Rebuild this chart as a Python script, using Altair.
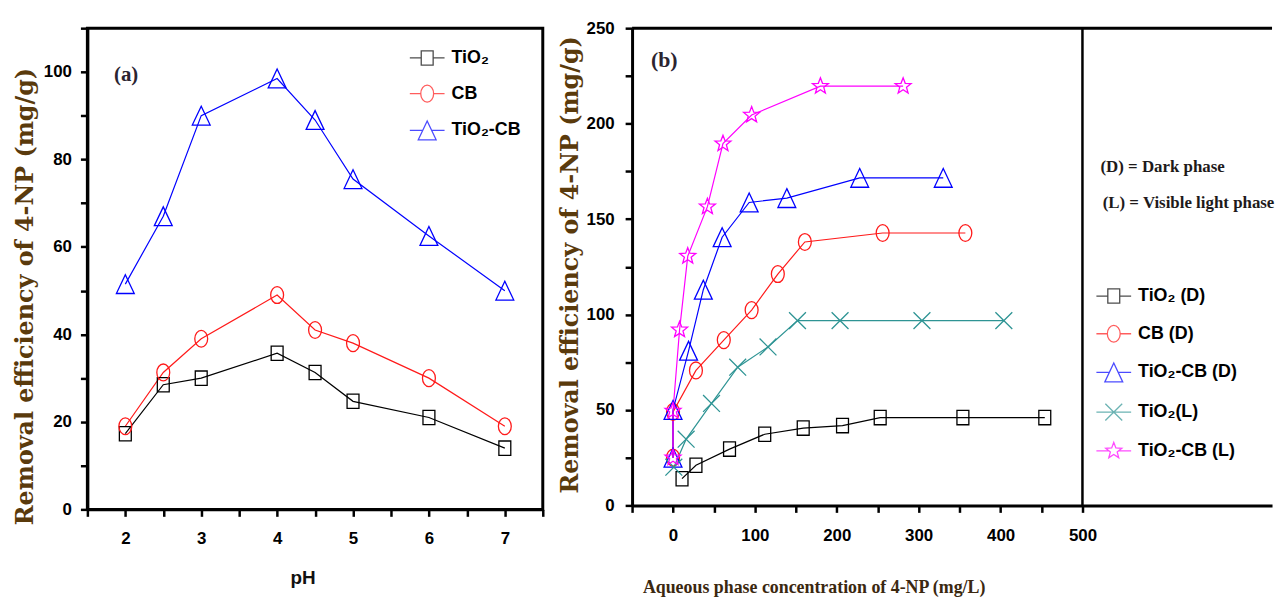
import math
import altair as alt
import pandas as pd

# ---------------- panel (a) data ----------------
ph = [2, 2.5, 3, 4, 4.5, 5, 6, 7]
a_tio2 = [17.3, 28.5, 30.0, 35.7, 31.3, 24.7, 21.0, 14.0]
a_cb = [19.0, 31.3, 39.0, 49.0, 41.0, 38.0, 30.0, 19.0]
a_tio2_cb = [51.5, 67.0, 90.0, 98.5, 89.0, 75.5, 62.5, 50.0]
a_names = ["TiO₂", "CB", "TiO₂-CB"]
a_colors = ["#000000", "#ff1a1a", "#0000ff"]
a_xticks = [1.5, 2, 2.5, 3, 3.5, 4, 4.5, 5, 5.5, 6, 6.5, 7, 7.5]

# ---------------- panel (b) data ----------------
b_names = ["TiO₂ (D)", "CB (D)", "TiO₂-CB (D)", "TiO₂(L)", "TiO₂-CB (L)"]
b_colors = ["#000000", "#ff1a1a", "#0000ff", "#2e9494", "#ff00ff"]
tio2_d_x = [11, 28, 69, 112, 159, 207, 253, 354, 454]
tio2_d_y = [14.0, 21.0, 29.5, 37.3, 40.5, 41.8, 46.0, 46.0, 46.0]
cb_d_x = [0, 0, 28, 62, 96, 128, 161, 256, 357]
cb_d_y = [25.0, 49.0, 70.7, 86.6, 102.3, 121.2, 138.0, 142.7, 142.7]
tio2cb_d_x = [0, 0, 19, 37, 60, 93, 139, 228, 330]
tio2cb_d_y = [25.0, 50.0, 81.0, 113.0, 140.5, 158.7, 161.0, 171.6, 171.6]
tio2_l_x = [1, 16, 47, 79, 116, 152, 204, 304, 404]
tio2_l_y = [20.0, 34.7, 53.4, 72.4, 83.0, 96.8, 96.8, 96.8, 96.8]
tio2cb_l_x = [0, 0, 8, 18, 42, 61, 96, 180, 281]
tio2cb_l_y = [25.0, 49.5, 92.0, 130.6, 156.5, 189.5, 204.5, 219.6, 219.6]

# annotations
a_note = ["(a)"]
a_note_x = [2.01]
a_note_y = [99.2]
b_note = ["(b)"]
b_note_x = [-10.7]
b_note_y = [233.5]
b_phase = ["(D) = Dark phase", "(L) = Visible light phase"]
b_phase_x = [522, 524.7]
b_phase_y = [177.1, 158.3]


# ---------------- marker shapes ----------------
def f(v):
    return f"{v:.3f}"


def square(s, w=0.6, h=0.72):
    w, h = w * s, h * s
    return f"M{f(-w)},{f(-h)}H{f(w)}V{f(h)}H{f(-w)}Z"


def ellipse(s, rx=0.65, ry=0.85):
    rx, ry = rx * s, ry * s
    return (f"M{f(-rx)},0A{f(rx)},{f(ry)} 0 1,0 {f(rx)},0"
            f"A{f(rx)},{f(ry)} 0 1,0 {f(-rx)},0Z")


def triangle(s, hw=0.9, hh=0.95):
    hw, hh = hw * s, hh * s
    return f"M0,{f(-hh)}L{f(hw)},{f(hh)}L{f(-hw)},{f(hh)}Z"


def cross(s, r=0.85):
    r = r * s
    return f"M{f(-r)},{f(-r)}L{f(r)},{f(r)}M{f(-r)},{f(r)}L{f(r)},{f(-r)}"


def star(s, R=0.85, r=0.36):
    pts = []
    for k in range(10):
        ang = math.radians(-90 + 36 * k)
        rad = (R if k % 2 == 0 else r) * s
        pts.append(f"{f(rad * math.cos(ang))},{f(rad * math.sin(ang))}")
    return "M" + "L".join(pts) + "Z"


def with_line(path, gap):
    return f"M-1,0H{f(-gap)}M{f(gap)},0H1" + path


LEG_SIZE = 1225
LS = 10 / 17.5  # legend scale relative to data markers
shape_defs = {
    "square": (square(1), with_line(square(LS), 0.6 * LS)),
    "circle": (ellipse(1), with_line(ellipse(LS), 0.65 * LS)),
    "triangle": (triangle(1), with_line(triangle(LS), 0.45 * LS)),
    "cross": (cross(1), "M-1,0H1" + cross(LS)),
    "star": (star(1), with_line(star(LS), 0.48 * LS)),
}
a_shapes = ["square", "circle", "triangle"]
b_shapes = ["square", "circle", "triangle", "cross", "star"]


def frame(names, xs, ys):
    rows = []
    for name, xv, yv in zip(names, xs, ys):
        for i, (xx, yy) in enumerate(zip(xv, yv)):
            rows.append({"series": name, "x": xx, "y": yy, "order": i})
    return pd.DataFrame(rows)


df_a = frame(a_names, [ph, ph, ph], [a_tio2, a_cb, a_tio2_cb])
df_b = frame(
    b_names,
    [tio2_d_x, cb_d_x, tio2cb_d_x, tio2_l_x, tio2cb_l_x],
    [tio2_d_y, cb_d_y, tio2cb_d_y, tio2_l_y, tio2cb_l_y],
)

SANS = "Liberation Sans"
SERIF = "Liberation Serif"
WIDE_SERIF = "DejaVu Serif"
BROWN = "#5a3a0c"
YTITLE = "Removal efficiency of 4-NP (mg/g)"

W_A, H_A = 459, 485
W_B, H_B = 645, 481


def panel(df, names, colors, shapes, xenc, yenc, legend_xy, row_pad, extra):
    color_plain = alt.Color("series:N", scale=alt.Scale(domain=names, range=colors), legend=None)
    lines = alt.Chart(df).mark_line(strokeWidth=1.2).encode(
        x=xenc, y=yenc, color=color_plain, order="order:Q")
    points = alt.Chart(df).mark_point(size=400, filled=False, strokeWidth=1.3, opacity=1).encode(
        x=xenc, y=yenc, color=color_plain,
        shape=alt.Shape("series:N", scale=alt.Scale(domain=names,
                        range=[shape_defs[s][0] for s in shapes]), legend=None))
    leg = alt.Legend(title=None, orient="none", legendX=legend_xy[0], legendY=legend_xy[1],
                     symbolSize=LEG_SIZE, symbolStrokeWidth=1.3, symbolFillColor="transparent",
                     labelFont=SANS, labelFontSize=18, labelFontWeight="bold",
                     labelColor="black", rowPadding=row_pad, labelOffset=6, padding=0)
    legend_layer = alt.Chart(df).transform_filter("false").mark_point(
        filled=False, strokeWidth=1.3).encode(
        x=xenc, y=yenc,
        color=alt.Color("series:N", scale=alt.Scale(domain=names, range=colors), legend=leg),
        shape=alt.Shape("series:N", scale=alt.Scale(domain=names,
                        range=[shape_defs[s][1] for s in shapes]), legend=leg))
    texts = [c.encode(x=xenc, y=yenc) for c in extra]
    return alt.layer(lines, points, legend_layer, *texts).resolve_scale(
        color="independent", shape="independent")


# ---------------- panel (a) ----------------
xa = alt.X("x:Q", scale=alt.Scale(domain=[1.5, 7.5], nice=False, zero=False),
           axis=alt.Axis(title="pH", values=a_xticks, labelOverlap=False,
                         labelExpr="(floor(datum.value) == datum.value && datum.value >= 2 && datum.value <= 7) ? format(datum.value, 'd') : ''",
                         titleFont=SANS, titleFontSize=19, titleFontWeight="bold",
                         titleColor="#111111", titleX=217, titleY=69,
                         titleAlign="center", titleBaseline="middle", labelPadding=14))
ya = alt.Y("y:Q", scale=alt.Scale(domain=[0, 110], nice=False, zero=True),
           axis=alt.Axis(title=YTITLE, values=list(range(0, 111, 10)), labelOverlap=False,
                         labelExpr="(datum.value % 20 == 0 && datum.value <= 100) ? format(datum.value, 'd') : ''",
                         titleFont=WIDE_SERIF, titleFontSize=24, titleFontWeight="bold",
                         titleColor=BROWN, titleAngle=270, titleX=-62, titleY=270,
                         titleAlign="center", titleBaseline="middle", labelPadding=9))

note_a = alt.Chart(pd.DataFrame({"t": a_note, "x": a_note_x, "y": a_note_y})).mark_text(
    font=SERIF, fontSize=21, fontWeight="bold", color="#2b2430").encode(text="t:N")

chart_a = panel(df_a, a_names, a_colors, a_shapes, xa, ya, (324, 11.5), 7, [note_a]).properties(
    width=W_A, height=H_A, view=alt.ViewBackground(stroke="black", strokeWidth=3))

# ---------------- panel (b) ----------------
xb = alt.X("x:Q", scale=alt.Scale(domain=[-50, 731.5], nice=False, zero=False),
           axis=alt.Axis(title="Aqueous phase concentration of 4-NP (mg/L)",
                         values=list(range(-50, 501, 50)), labelOverlap=False,
                         labelExpr="(datum.value % 100 == 0 && datum.value >= 0) ? format(datum.value, 'd') : ''",
                         titleFont=SERIF, titleFontSize=18, titleFontWeight="bold",
                         titleColor="#3b2810", titleX=183, titleY=83,
                         titleAlign="center", titleBaseline="middle", labelPadding=15))
yb = alt.Y("y:Q", scale=alt.Scale(domain=[0, 250], nice=False, zero=True),
           axis=alt.Axis(title=YTITLE, values=list(range(0, 251, 25)), labelOverlap=False,
                         labelExpr="datum.value % 50 == 0 ? format(datum.value, 'd') : ''",
                         titleFont=WIDE_SERIF, titleFontSize=24, titleFontWeight="bold",
                         titleColor=BROWN, titleAngle=270, titleX=-62, titleY=238,
                         titleAlign="center", titleBaseline="middle", labelPadding=11))

one = alt.Data(values=[{"k": 1}])
top_rule = alt.Chart(one).mark_rule(color="black", strokeWidth=3).encode(y=alt.value(0))
sep_rule = alt.Chart(one).mark_rule(color="black", strokeWidth=2.5).encode(x=alt.datum(500))
note_b = alt.Chart(pd.DataFrame({"t": b_note, "x": b_note_x, "y": b_note_y})).mark_text(
    font=SERIF, fontSize=22, fontWeight="bold", color="#2b2430").encode(text="t:N")
phase_b = alt.Chart(pd.DataFrame({"t": b_phase, "x": b_phase_x, "y": b_phase_y})).mark_text(
    font=SERIF, fontSize=17, fontWeight="bold", color="#1e1a1a", align="left").encode(text="t:N")

chart_b = alt.layer(
    panel(df_b, b_names, b_colors, b_shapes, xb, yb, (467, 251.5), 9, [note_b, phase_b]),
    top_rule, sep_rule,
).properties(width=W_B, height=H_B)

chart = alt.hconcat(chart_a, chart_b, spacing=12).properties(
    padding={"left": 4, "top": 7, "right": 0, "bottom": 0}
).configure_view(stroke=None).configure_axis(
    grid=False, domainColor="black", domainWidth=3, tickColor="black", tickWidth=2.5,
    tickSize=7, labelFont=SANS, labelFontSize=17, labelFontWeight="bold", labelColor="black"
)

chart.save("out.html", embed_options={"renderer": "svg", "actions": False})
